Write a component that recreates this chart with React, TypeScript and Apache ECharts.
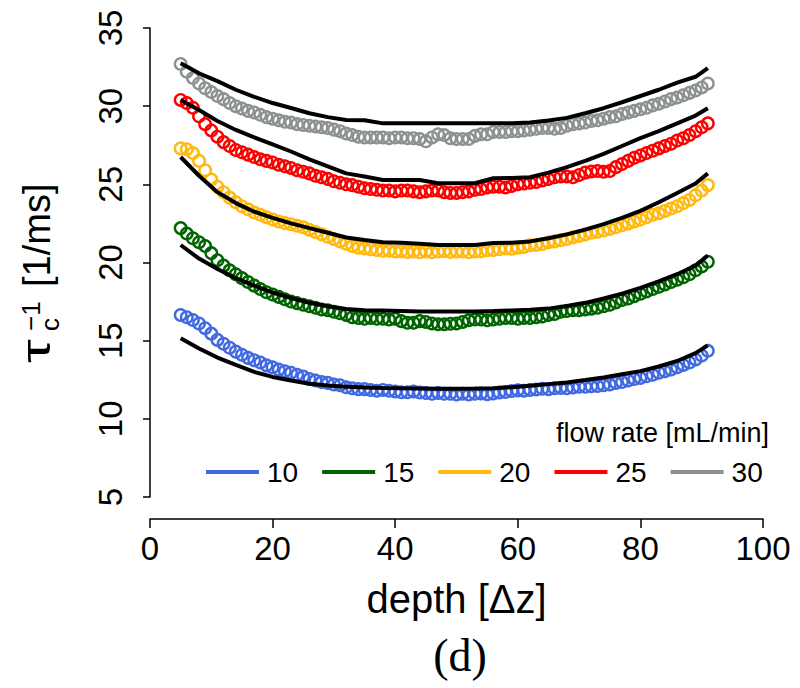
import React, { useEffect, useRef } from "react";
import * as echarts from "echarts";

const depth = [
  5, 6, 7, 8, 9, 10, 11, 12, 13, 14, 15, 16, 17, 18, 19, 20, 21, 22, 23, 24,
  25, 26, 27, 28, 29, 30, 31, 32, 33, 34, 35, 36, 37, 38, 39, 40, 41, 42, 43, 44,
  45, 46, 47, 48, 49, 50, 51, 52, 53, 54, 55, 56, 57, 58, 59, 60, 61, 62, 63, 64,
  65, 66, 67, 68, 69, 70, 71, 72, 73, 74, 75, 76, 77, 78, 79, 80, 81, 82, 83, 84,
  85, 86, 87, 88, 89, 90, 91,
];

const obs10 = [
  16.64, 16.5, 16.32, 16.1, 15.8, 15.45, 15.05, 14.8, 14.55, 14.3,
  14.1, 13.9, 13.75, 13.6, 13.42, 13.3, 13.15, 13.05, 12.95, 12.82,
  12.7, 12.55, 12.45, 12.35, 12.3, 12.2, 12.15, 12.02, 11.95, 11.9,
  11.9, 11.85, 11.8, 11.85, 11.8, 11.75, 11.7, 11.7, 11.75, 11.68,
  11.65, 11.6, 11.65, 11.6, 11.6, 11.55, 11.6, 11.55, 11.6, 11.62,
  11.58, 11.62, 11.68, 11.72, 11.78, 11.82, 11.8, 11.85, 11.88, 11.92,
  11.9, 11.95, 11.98, 11.95, 12.0, 12.05, 12.05, 12.08, 12.1, 12.15,
  12.2, 12.3, 12.35, 12.45, 12.55, 12.62, 12.72, 12.82, 12.95, 13.05,
  13.15, 13.3, 13.45, 13.6, 13.8, 14.05, 14.35,
];
const obs15 = [
  22.2, 21.85, 21.55, 21.3, 21.05, 20.6, 20.15, 19.8, 19.5, 19.25,
  19.0, 18.75, 18.52, 18.3, 18.1, 17.95, 17.8, 17.65, 17.5, 17.4,
  17.3, 17.2, 17.1, 17.0, 16.95, 16.85, 16.75, 16.65, 16.5, 16.45,
  16.4, 16.45, 16.4, 16.4, 16.35, 16.4, 16.25, 16.15, 16.15, 16.25,
  16.2, 16.1, 16.05, 16.05, 16.08, 16.1, 16.2, 16.3, 16.35, 16.35,
  16.3, 16.35, 16.4, 16.45, 16.45, 16.4, 16.45, 16.45, 16.5, 16.55,
  16.65, 16.7, 16.85, 16.9, 16.95, 16.95, 17.0, 17.05, 17.1, 17.2,
  17.3, 17.45, 17.6, 17.7, 17.85, 18.0, 18.15, 18.3, 18.45, 18.6,
  18.75, 18.9, 19.05, 19.25, 19.5, 19.75, 20.05,
];
const obs20 = [
  27.3, 27.25, 27.0, 26.5, 25.9, 25.3, 24.85, 24.5, 24.15, 23.85,
  23.6, 23.4, 23.2, 23.05, 22.9, 22.75, 22.62, 22.52, 22.45, 22.35,
  22.25, 22.1, 21.95, 21.8, 21.65, 21.5, 21.35, 21.2, 21.05, 20.95,
  20.9, 20.85, 20.8, 20.75, 20.75, 20.7, 20.72, 20.68, 20.7, 20.65,
  20.7, 20.65, 20.7, 20.72, 20.68, 20.7, 20.7, 20.65, 20.7, 20.72,
  20.78, 20.8, 20.85, 20.9, 20.88, 20.95, 21.0, 21.1, 21.12, 21.18,
  21.3, 21.35, 21.42, 21.5, 21.62, 21.7, 21.8, 21.9, 21.97, 22.05,
  22.15, 22.25, 22.38, 22.5, 22.62, 22.75, 22.9, 23.05, 23.15, 23.3,
  23.45, 23.6, 23.8, 24.0, 24.3, 24.6, 24.95,
];
const obs25 = [
  30.4, 30.2, 29.9, 29.35, 28.85, 28.45, 28.05, 27.7, 27.45, 27.2,
  27.05, 26.9, 26.75, 26.6, 26.5, 26.4, 26.25, 26.15, 26.05, 25.9,
  25.8, 25.7, 25.55, 25.45, 25.35, 25.2, 25.1, 25.0, 24.95, 24.85,
  24.75, 24.7, 24.65, 24.6, 24.6, 24.55, 24.6, 24.6, 24.55, 24.5,
  24.55, 24.6, 24.6, 24.5, 24.45, 24.45, 24.5, 24.55, 24.65, 24.7,
  24.8, 24.85, 24.85, 24.8, 24.9, 25.0, 25.05, 25.1, 25.15, 25.25,
  25.35, 25.45, 25.5, 25.5, 25.45, 25.6, 25.75, 25.82, 25.85, 25.8,
  25.85, 26.1, 26.3, 26.5, 26.7, 26.85, 27.0, 27.15, 27.3, 27.45,
  27.6, 27.8, 27.95, 28.15, 28.4, 28.65, 28.9,
];
const obs30 = [
  32.7, 32.2, 31.8, 31.45, 31.15, 30.9, 30.65, 30.45, 30.2, 30.0,
  29.85, 29.7, 29.6, 29.45, 29.3, 29.2, 29.1, 29.0, 28.95, 28.85,
  28.8, 28.75, 28.7, 28.65, 28.6, 28.5, 28.4, 28.25, 28.15, 28.05,
  28.0, 28.0, 28.0, 28.0, 27.95, 28.0, 28.0, 27.95, 27.95, 27.9,
  27.75, 28.0, 28.2, 28.15, 27.95, 27.9, 27.9, 27.9, 28.1, 28.2,
  28.2, 28.35, 28.35, 28.35, 28.4, 28.4, 28.45, 28.5, 28.55, 28.6,
  28.6, 28.55, 28.6, 28.75, 28.85, 28.9, 28.95, 29.05, 29.1, 29.2,
  29.3, 29.35, 29.5, 29.6, 29.7, 29.8, 29.9, 30.05, 30.15, 30.3,
  30.45, 30.55, 30.7, 30.85, 31.0, 31.2, 31.45,
];

const fitDepth = [
  5, 8, 11, 14, 17, 20, 23, 26, 29, 32, 35, 38, 41, 44, 47, 50, 53, 56, 59,
  62, 65, 68, 71, 74, 77, 80, 83, 86, 89, 91,
];
const fit10 = [
  15.15, 14.5, 13.92, 13.45, 13.0, 12.68, 12.45, 12.25, 12.13, 12.05, 12.0,
  11.97, 11.95, 11.94, 11.93, 11.93, 11.94, 11.96, 12.02, 12.12, 12.22, 12.33,
  12.48, 12.65, 12.85, 13.05, 13.35, 13.7, 14.2, 14.7,
];
const fit15 = [
  21.12, 20.25, 19.58, 19.0, 18.52, 18.08, 17.73, 17.42, 17.2, 17.02, 16.95,
  16.93, 16.9, 16.87, 16.86, 16.86, 16.87, 16.89, 16.93, 16.98, 17.05, 17.22,
  17.42, 17.7, 18.0, 18.38, 18.8, 19.25, 19.8, 20.45,
];
const fit20 = [
  26.75, 25.55, 24.5, 23.8, 23.25, 22.85, 22.5, 22.2, 21.9, 21.6, 21.44,
  21.3, 21.27, 21.2, 21.12, 21.12, 21.12, 21.25, 21.27, 21.35, 21.55, 21.8,
  22.1, 22.45, 22.85, 23.3, 23.85, 24.45, 25.05, 25.7,
];
const fit25 = [
  30.4, 29.75, 29.05, 28.48, 28.0, 27.55, 27.1, 26.6, 26.15, 25.7, 25.5,
  25.28, 25.28, 25.28, 25.07, 25.07, 25.07, 25.39, 25.4, 25.45, 25.75, 26.1,
  26.5, 26.95, 27.45, 27.95, 28.4, 28.9, 29.4, 29.87,
];
const fit30 = [
  32.75, 32.1, 31.6, 31.05, 30.6, 30.2, 29.88, 29.55, 29.3, 29.12, 29.1,
  28.9, 28.9, 28.9, 28.9, 28.9, 28.9, 28.9, 28.9, 28.95, 29.08, 29.25,
  29.55, 29.87, 30.25, 30.65, 31.05, 31.5, 31.88, 32.43,
];

const flowRates = ["10", "15", "20", "25", "30"];
const colors = ["#4169E1", "#006400", "#FFB90F", "#FF0000", "#8C9292"];
const observed = [obs10, obs15, obs20, obs25, obs30];
const fitted = [fit10, fit15, fit20, fit25, fit30];

const xTicks = { min: 0, max: 100, interval: 20 };
const yTicks = { min: 5, max: 35, interval: 5 };

const SANS = '"Liberation Sans Narrow", "Liberation Sans", Arial, sans-serif';
const SANS_REG = '"Liberation Sans", Arial, sans-serif';

export default function App() {
  const ref = useRef<HTMLDivElement>(null);

  useEffect(() => {
    if (!ref.current) return;
    const chart = echarts.init(ref.current, undefined, { renderer: "svg" });

    const scatterSeries = flowRates.map((name, i) => ({
      name,
      type: "scatter",
      data: depth.map((d, j) => [d, observed[i][j]]),
      symbol: "circle",
      symbolSize: 11.5,
      itemStyle: { color: "rgba(0,0,0,0)", borderColor: colors[i], borderWidth: 2.4, opacity: 1 },
      z: 2,
    }));
    const fitSeries = flowRates.map((name, i) => ({
      name: "fit " + name,
      type: "line",
      data: fitDepth.map((d, j) => [d, fitted[i][j]]),
      showSymbol: false,
      symbol: "none",
      lineStyle: { color: "#000", width: 4 },
      z: 3,
    }));

    const option: any = {
      animation: false,
      backgroundColor: "#ffffff",
      grid: { left: 150, right: 37, top: 28, bottom: 191 },
      xAxis: {
        type: "value",
        ...xTicks,
        offset: 22,
        axisLine: { show: true, lineStyle: { color: "#000", width: 1.5 } },
        axisTick: { show: true, length: 9, lineStyle: { color: "#000", width: 1.5 } },
        axisLabel: {
          color: "#000",
          fontSize: 33,
          fontFamily: SANS,
          margin: 13,
          showMinLabel: true,
          showMaxLabel: true,
        },
        splitLine: { show: false },
        name: "depth [Δz]",
        nameLocation: "middle",
        nameGap: 60,
        nameTextStyle: { color: "#000", fontSize: 40, fontFamily: SANS },
      },
      yAxis: {
        type: "value",
        ...yTicks,
        offset: 17,
        axisLine: { show: true, lineStyle: { color: "#000", width: 1.5 } },
        axisTick: { show: true, length: 7, lineStyle: { color: "#000", width: 1.5 } },
        axisLabel: {
          color: "#000",
          fontSize: 33,
          fontFamily: SANS,
          rotate: 90,
          margin: 6,
          showMinLabel: true,
          showMaxLabel: true,
        },
        splitLine: { show: false },
      },
      legend: {
        data: flowRates.map((n, i) => ({ name: n, itemStyle: { color: colors[i], borderWidth: 0, opacity: 1 } })),
        icon: "rect",
        itemWidth: 53,
        itemHeight: 4,
        itemGap: 24,
        left: 201,
        top: 453,
        textStyle: { color: "#000", fontSize: 28, fontFamily: SANS, padding: [0, 0, 0, 3] },
      },
      graphic: [
        {
          type: "group",
          x: 50,
          y: 363,
          rotation: Math.PI / 2,
          children: [
            { type: "text", x: 0, y: -14, scaleX: 1.5, style: { text: "τ", font: '40px "Liberation Sans"', fill: "#000", align: "left", verticalAlign: "middle" } },
            { type: "text", x: 32, y: 0, style: { text: "c", font: '26px "Liberation Sans"', fill: "#000", align: "left", verticalAlign: "middle" } },
            { type: "text", x: 32, y: -19, style: { text: "−1", font: '26px "Liberation Sans"', fill: "#000", align: "left", verticalAlign: "middle" } },
            { type: "text", x: 76, y: -13, style: { text: "[1/ms]", font: '38px "Liberation Sans"', fill: "#000", align: "left", verticalAlign: "middle" } },
          ],
        },
        {
          type: "text",
          x: 556,
          y: 433,
          style: { text: "flow rate [mL/min]", font: "27px " + SANS_REG, fill: "#000", align: "left", verticalAlign: "middle" },
        },
        {
          type: "text",
          x: 460,
          y: 655,
          style: { text: "(d)", font: '46px "Liberation Serif", serif', fill: "#000", align: "center", verticalAlign: "middle" },
        },
      ],
      series: [...scatterSeries, ...fitSeries],
    };

    chart.setOption(option);
    return () => chart.dispose();
  }, []);

  return (
    <div
      ref={ref}
      style={{ position: "absolute", left: 0, top: 0, width: 800, height: 688 }}
    />
  );
}
